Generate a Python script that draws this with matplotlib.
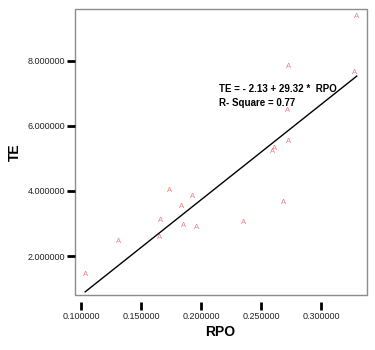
import matplotlib
matplotlib.use("Agg")
import matplotlib.pyplot as plt
from matplotlib.patches import Rectangle
import numpy as np

plt.rcParams['font.family'] = ['Liberation Sans', 'DejaVu Sans']

# points
rpo = [0.3295, 0.2730, 0.3275, 0.2717, 0.2725, 0.2614, 0.2595, 0.2689, 0.1739,
       0.1923, 0.1833, 0.1662, 0.1856, 0.1958, 0.2356, 0.1653, 0.1312, 0.1033]
te = [9.35, 7.82, 7.63, 6.48, 5.51, 5.30, 5.20, 3.64, 4.02,
      3.82, 3.51, 3.08, 2.94, 2.89, 3.02, 2.58, 2.46, 1.44]

intercept = -2.13
slope = 29.32
r_square = 0.77

xticks = [0.10, 0.15, 0.20, 0.25, 0.30]
yticks = [2.0, 4.0, 6.0, 8.0]

fig = plt.figure(figsize=(3.75, 3.5), dpi=100)
ax = fig.add_axes([0.199, 0.157, 0.779, 0.817])

for x, y in zip(rpo, te):
    ax.text(x, y, 'A', color='#f27f7f', fontsize=5.5, ha='center', va='center')

xs = np.array([min(rpo), max(rpo)])
ax.plot(xs, intercept + slope * xs, color='black', lw=1)

ax.set_xlim(0.0945, 0.3378)
ax.set_ylim(0.80, 9.59)
ax.set_xticks(xticks)
ax.set_yticks(yticks)
ax.set_xticklabels(['%.6f' % v for v in xticks])
ax.set_yticklabels(['%.6f' % v for v in yticks])

for s in ax.spines.values():
    s.set_color('none')
ax.spines['bottom'].set_position(('outward', 5))
ax.add_patch(Rectangle((0, 0), 1, 1, transform=ax.transAxes, fill=False,
                       edgecolor='#8c8c8c', lw=1, clip_on=False))

ax.tick_params(axis='both', direction='out', length=6, width=2, color='black',
               labelsize=6.5, labelcolor='#222222')
ax.tick_params(axis='y', pad=1)
ax.tick_params(axis='x', pad=1)

ax.set_xlabel('RPO', fontsize=10, fontweight='bold', labelpad=3)
ax.set_ylabel('TE', fontsize=10, fontweight='bold', labelpad=4)

ax.text(0.495, 0.719, 'TE = - %.2f + %.2f *  RPO' % (-intercept, slope),
        transform=ax.transAxes, fontsize=7, fontweight='bold', va='center')
ax.text(0.495, 0.670, 'R- Square = %.2f' % r_square,
        transform=ax.transAxes, fontsize=7, fontweight='bold', va='center')

fig.savefig('out.png', dpi=100)
